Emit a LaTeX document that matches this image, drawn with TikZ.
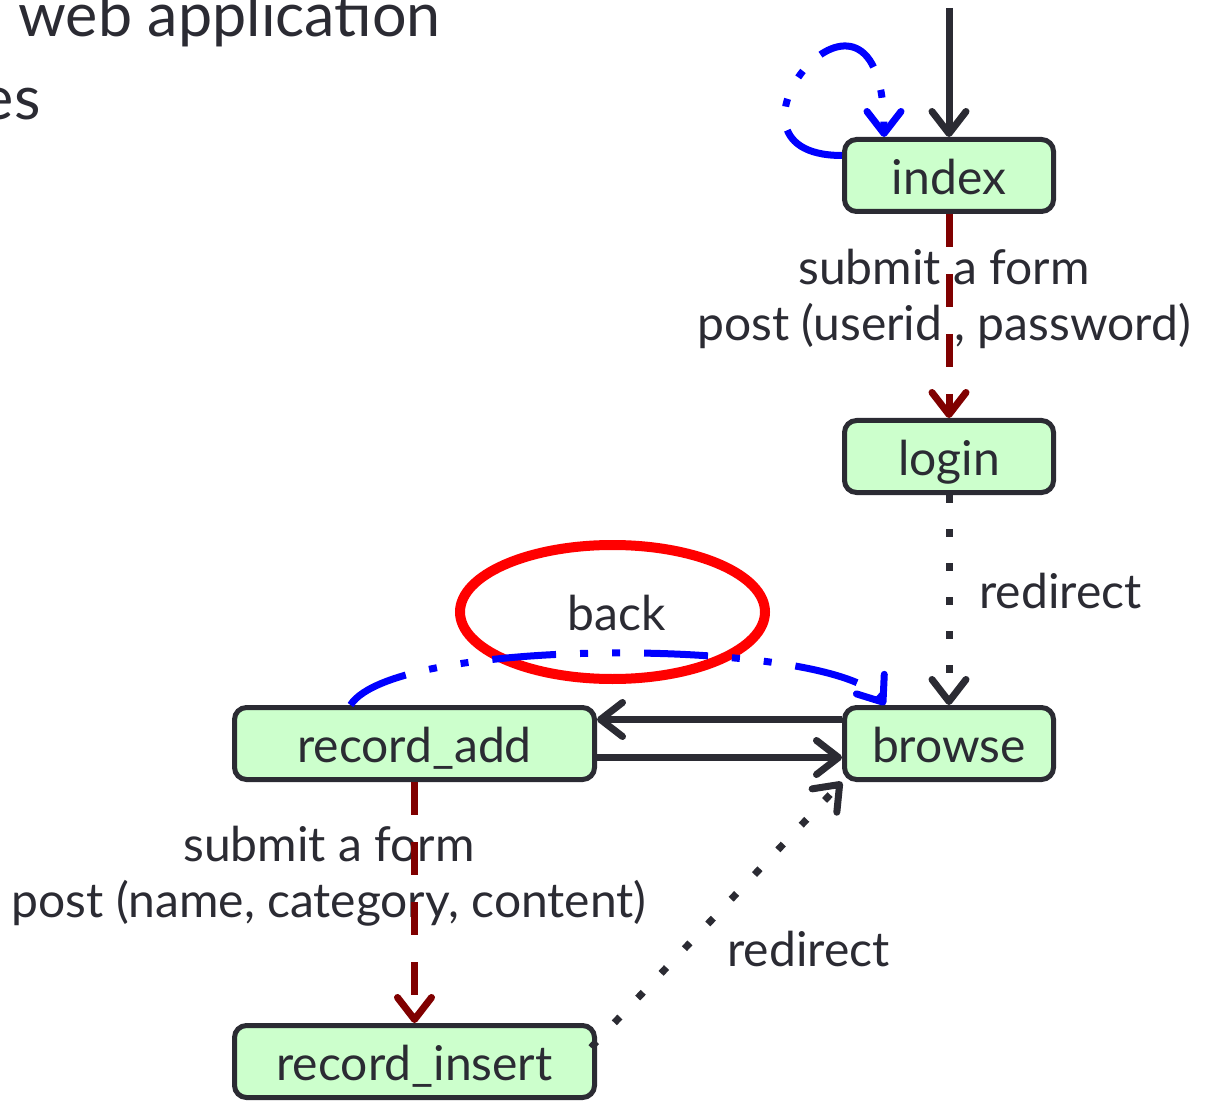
\documentclass[tikz,border=0pt]{standalone}
\usepackage{fontspec}
\setmainfont{Lato}
\usetikzlibrary{arrows.meta,calc,shapes.geometric}
\definecolor{inkdark}{RGB}{43,43,51}
\definecolor{boxfill}{RGB}{204,255,204}
\definecolor{darkred}{RGB}{128,0,0}
\definecolor{linkblue}{RGB}{0,0,255}
\begin{document}
\begin{tikzpicture}[x=0.5pt,y=-0.5pt,
  page/.style={draw=inkdark, fill=boxfill, line width=2.5pt, rounded corners=6pt,
    minimum height=36pt, inner sep=0pt, font=\fontsize{24}{28}\selectfont, text=inkdark,
    text height=19pt, text depth=0pt},
  shortpage/.style={page, minimum width=104.5pt},
  longpage/.style={page, minimum width=180pt},
  barb/.tip={Straight Barb[length=11pt,width=17pt,round]},
  flow/.style={draw=inkdark, line width=3.5pt, -barb},
  postflow/.style={draw=darkred, line width=3.5pt, dash pattern=on 16.5pt off 13.5pt, -barb},
  redirflow/.style={draw=inkdark, line width=3.5pt, line cap=butt, dash pattern=on 4pt off 13pt, -barb},
  backflow/.style={draw=linkblue, line width=3.5pt,
    dash pattern=on 32pt off 12pt on 4pt off 12pt on 4pt off 12pt, -barb},
  lbl/.style={text=inkdark, font=\fontsize{24}{28}\selectfont, align=center, inner sep=0pt},
  ttl/.style={text=inkdark, font=\fontsize{30.5}{36}\selectfont, inner sep=0pt}]
\useasboundingbox (0,0) rectangle (1210,1101);

% title fragments
\node[ttl, anchor=base west] (title) at (18,37) {web application};
\node[ttl, anchor=base east] (title2) at (41,120) {es};

% highlight ellipse
\draw[red, line width=5pt] (612.5,612) ellipse [x radius=152.5, y radius=67];

% pages
\node[shortpage] (index) at (949,175.5) {index};
\node[shortpage] (login) at (949,456.5) {login};
\node[shortpage] (browse) at (949,743.5) {browse};
\node[longpage] (recadd) at (414.5,743.5) {record\_add};
\node[longpage] (recins) at (414.5,1061.5) {record\_insert};

% labels
\node[lbl] (lab1) at (944,299) {submit a form\\post (userid , password)};
\node[lbl, anchor=base west] (lab2) at (979,608) {redirect};
\node[lbl] (lab3) at (329,876) {submit a form\\post (name, category, content)};
\node[lbl, anchor=base west] (lab4) at (727,966) {redirect};
\node[lbl, anchor=base] (lab5) at (617,630) {back};

% connectors
\coordinate (entry) at (949,8);
\draw[flow] (entry) -- (index.north);
\draw[backflow] ($(index.west)+(0,-20)$) .. controls +(-150,0) and +(0,-210) .. ($(index.north west)+(42,0)$);
\draw[postflow] (index.south) -- (login.north);
\draw[redirflow] (login.south) -- (browse.north);
\draw[flow] ($(browse.west)+(0,-24)$) -- ($(recadd.east)+(0,-24)$);
\draw[flow] ($(recadd.east)+(0,14)$) -- ($(browse.west)+(0,14)$);
\draw[backflow] ($(recadd.north)+(-64,0)$) .. controls +(45,-70) and +(-47,-67) .. ($(browse.north west)+(43,0)$);
\draw[postflow] (recadd.south) -- (recins.north);
\draw[redirflow] ($(recins.east)+(-6,-14)$) -- (browse.south west);
\end{tikzpicture}
\end{document}
